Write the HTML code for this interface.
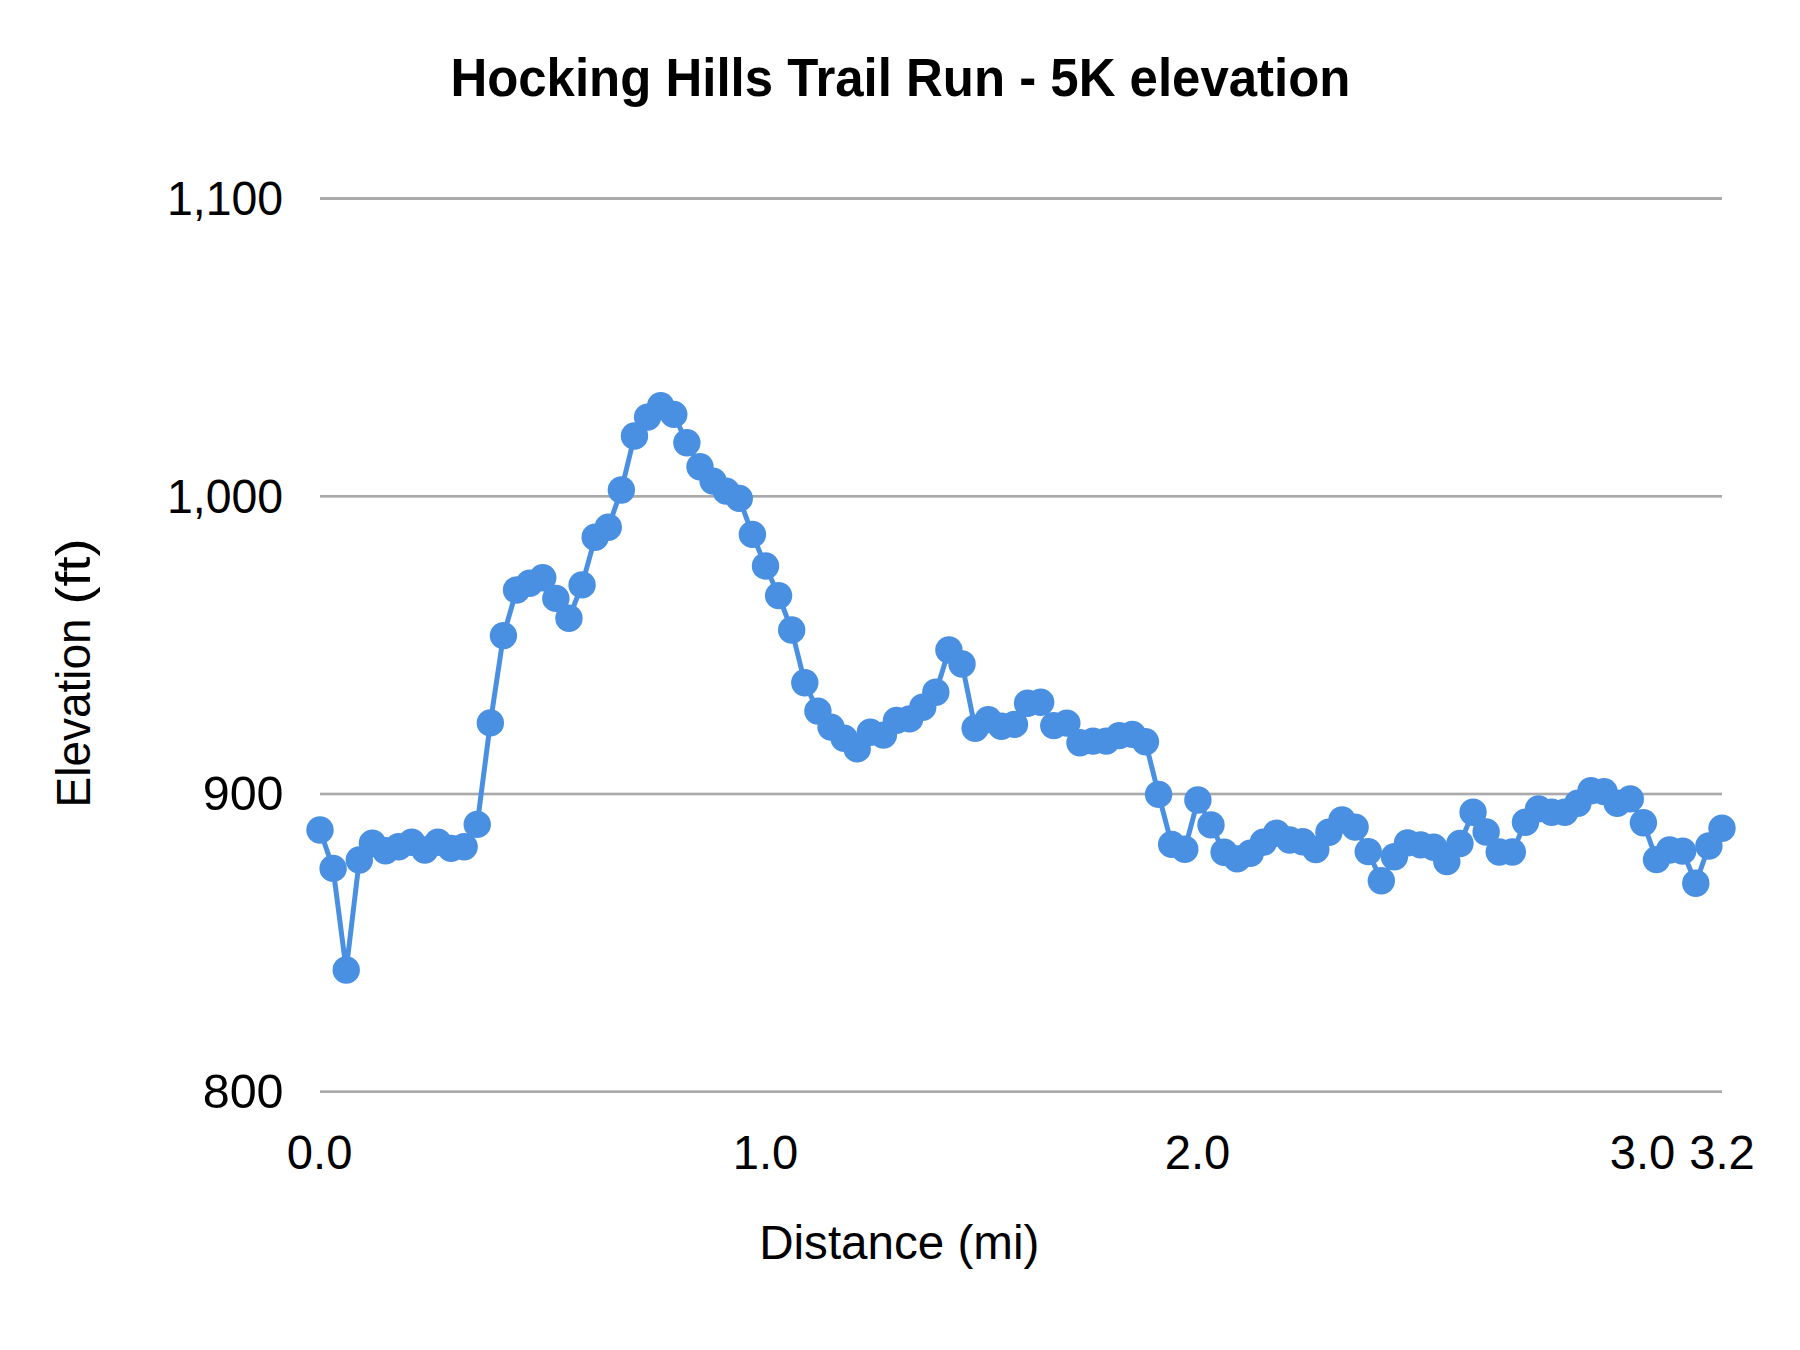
<!DOCTYPE html><html><head><meta charset="utf-8"><title>Hocking Hills Trail Run - 5K elevation</title>
<style>html,body{margin:0;padding:0;background:#fff;}body{width:1800px;height:1350px;overflow:hidden;}svg{display:block;}text{font-family:"Liberation Sans",sans-serif;fill:#000;}</style></head><body>
<svg width="1800" height="1350" viewBox="0 0 1800 1350">
<rect width="1800" height="1350" fill="#ffffff"/>
<rect x="320" y="197.00" width="1402" height="3.00" fill="#aaaaaa"/>
<rect x="320" y="495.00" width="1402" height="2.67" fill="#aaaaaa"/>
<rect x="320" y="792.67" width="1402" height="2.66" fill="#aaaaaa"/>
<rect x="320" y="1090.33" width="1402" height="2.67" fill="#aaaaaa"/>
<text x="450.4" y="95.8" font-size="54" font-weight="bold" textLength="900" lengthAdjust="spacingAndGlyphs">Hocking Hills Trail Run - 5K elevation</text>
<text x="167" y="215" font-size="48.5" textLength="116.2" lengthAdjust="spacingAndGlyphs">1,100</text>
<text x="167" y="512.7" font-size="48.5" textLength="116.2" lengthAdjust="spacingAndGlyphs">1,000</text>
<text x="283.6" y="810.3" font-size="48.5" text-anchor="end">900</text>
<text x="283.6" y="1108.2" font-size="48.5" text-anchor="end">800</text>
<text x="319.6" y="1169.1" font-size="48.5" text-anchor="middle" textLength="65.6" lengthAdjust="spacingAndGlyphs">0.0</text>
<text x="765.5" y="1169.1" font-size="48.5" text-anchor="middle" textLength="65.6" lengthAdjust="spacingAndGlyphs">1.0</text>
<text x="1197.5" y="1169.1" font-size="48.5" text-anchor="middle" textLength="65.6" lengthAdjust="spacingAndGlyphs">2.0</text>
<text x="1642.5" y="1169.1" font-size="48.5" text-anchor="middle" textLength="65.6" lengthAdjust="spacingAndGlyphs">3.0</text>
<text x="1722" y="1169.1" font-size="48.5" text-anchor="middle" textLength="65.6" lengthAdjust="spacingAndGlyphs">3.2</text>
<text x="759.2" y="1258.8" font-size="48" textLength="280.2" lengthAdjust="spacingAndGlyphs">Distance (mi)</text>
<text transform="translate(90.2 803.4) rotate(-90)" font-size="48"><tspan x="-4" textLength="189" lengthAdjust="spacingAndGlyphs">Elevation</tspan> <tspan x="199" textLength="66" lengthAdjust="spacingAndGlyphs">(ft)</tspan></text>
<path d="M320.00 830.00 L333.10 868.40 L346.21 970.00 L359.31 860.00 L372.41 843.30 L385.51 850.70 L398.62 846.70 L411.72 842.20 L424.82 850.00 L437.93 842.20 L451.03 848.40 L464.13 846.70 L477.23 824.40 L490.34 722.90 L503.44 635.60 L516.54 590.00 L529.64 583.30 L542.75 577.80 L555.85 598.40 L568.95 618.20 L582.06 584.90 L595.16 537.30 L608.26 527.30 L621.36 490.00 L634.47 436.00 L647.57 417.10 L660.67 405.60 L673.78 414.40 L686.88 442.70 L699.98 466.70 L713.08 481.10 L726.19 491.10 L739.29 498.40 L752.39 534.40 L765.50 566.00 L778.60 595.60 L791.70 630.00 L804.80 682.70 L817.91 711.10 L831.01 727.10 L844.11 738.20 L857.21 748.90 L870.32 732.20 L883.42 735.10 L896.52 720.40 L909.63 718.90 L922.73 707.30 L935.83 692.20 L948.93 650.00 L962.04 664.00 L975.14 728.20 L988.24 719.60 L1001.35 726.20 L1014.45 724.40 L1027.55 703.30 L1040.65 702.20 L1053.76 725.60 L1066.86 723.10 L1079.96 742.70 L1093.07 741.10 L1106.17 741.10 L1119.27 735.60 L1132.37 734.40 L1145.48 741.80 L1158.58 794.40 L1171.68 844.40 L1184.79 849.30 L1197.89 800.00 L1210.99 824.90 L1224.09 852.20 L1237.20 858.90 L1250.30 853.30 L1263.40 842.20 L1276.50 833.30 L1289.61 840.00 L1302.71 841.80 L1315.81 849.60 L1328.92 832.20 L1342.02 820.00 L1355.12 827.10 L1368.22 851.60 L1381.33 880.70 L1394.43 856.70 L1407.53 842.90 L1420.64 844.90 L1433.74 847.30 L1446.84 861.60 L1459.94 843.50 L1473.05 812.20 L1486.15 832.00 L1499.25 852.00 L1512.36 852.00 L1525.46 822.20 L1538.56 808.90 L1551.66 812.20 L1564.77 812.20 L1577.87 803.30 L1590.97 790.70 L1604.07 791.60 L1617.18 803.30 L1630.28 798.90 L1643.38 822.70 L1656.49 859.60 L1669.59 850.00 L1682.69 851.10 L1695.79 883.30 L1708.90 846.00 L1722.00 828.20" fill="none" stroke="#4a90e2" stroke-width="5" stroke-linejoin="round" stroke-linecap="round"/>
<g fill="#4a90e2">
<circle cx="320.00" cy="830.00" r="13.7"/>
<circle cx="333.10" cy="868.40" r="13.7"/>
<circle cx="346.21" cy="970.00" r="13.7"/>
<circle cx="359.31" cy="860.00" r="13.7"/>
<circle cx="372.41" cy="843.30" r="13.7"/>
<circle cx="385.51" cy="850.70" r="13.7"/>
<circle cx="398.62" cy="846.70" r="13.7"/>
<circle cx="411.72" cy="842.20" r="13.7"/>
<circle cx="424.82" cy="850.00" r="13.7"/>
<circle cx="437.93" cy="842.20" r="13.7"/>
<circle cx="451.03" cy="848.40" r="13.7"/>
<circle cx="464.13" cy="846.70" r="13.7"/>
<circle cx="477.23" cy="824.40" r="13.7"/>
<circle cx="490.34" cy="722.90" r="13.7"/>
<circle cx="503.44" cy="635.60" r="13.7"/>
<circle cx="516.54" cy="590.00" r="13.7"/>
<circle cx="529.64" cy="583.30" r="13.7"/>
<circle cx="542.75" cy="577.80" r="13.7"/>
<circle cx="555.85" cy="598.40" r="13.7"/>
<circle cx="568.95" cy="618.20" r="13.7"/>
<circle cx="582.06" cy="584.90" r="13.7"/>
<circle cx="595.16" cy="537.30" r="13.7"/>
<circle cx="608.26" cy="527.30" r="13.7"/>
<circle cx="621.36" cy="490.00" r="13.7"/>
<circle cx="634.47" cy="436.00" r="13.7"/>
<circle cx="647.57" cy="417.10" r="13.7"/>
<circle cx="660.67" cy="405.60" r="13.7"/>
<circle cx="673.78" cy="414.40" r="13.7"/>
<circle cx="686.88" cy="442.70" r="13.7"/>
<circle cx="699.98" cy="466.70" r="13.7"/>
<circle cx="713.08" cy="481.10" r="13.7"/>
<circle cx="726.19" cy="491.10" r="13.7"/>
<circle cx="739.29" cy="498.40" r="13.7"/>
<circle cx="752.39" cy="534.40" r="13.7"/>
<circle cx="765.50" cy="566.00" r="13.7"/>
<circle cx="778.60" cy="595.60" r="13.7"/>
<circle cx="791.70" cy="630.00" r="13.7"/>
<circle cx="804.80" cy="682.70" r="13.7"/>
<circle cx="817.91" cy="711.10" r="13.7"/>
<circle cx="831.01" cy="727.10" r="13.7"/>
<circle cx="844.11" cy="738.20" r="13.7"/>
<circle cx="857.21" cy="748.90" r="13.7"/>
<circle cx="870.32" cy="732.20" r="13.7"/>
<circle cx="883.42" cy="735.10" r="13.7"/>
<circle cx="896.52" cy="720.40" r="13.7"/>
<circle cx="909.63" cy="718.90" r="13.7"/>
<circle cx="922.73" cy="707.30" r="13.7"/>
<circle cx="935.83" cy="692.20" r="13.7"/>
<circle cx="948.93" cy="650.00" r="13.7"/>
<circle cx="962.04" cy="664.00" r="13.7"/>
<circle cx="975.14" cy="728.20" r="13.7"/>
<circle cx="988.24" cy="719.60" r="13.7"/>
<circle cx="1001.35" cy="726.20" r="13.7"/>
<circle cx="1014.45" cy="724.40" r="13.7"/>
<circle cx="1027.55" cy="703.30" r="13.7"/>
<circle cx="1040.65" cy="702.20" r="13.7"/>
<circle cx="1053.76" cy="725.60" r="13.7"/>
<circle cx="1066.86" cy="723.10" r="13.7"/>
<circle cx="1079.96" cy="742.70" r="13.7"/>
<circle cx="1093.07" cy="741.10" r="13.7"/>
<circle cx="1106.17" cy="741.10" r="13.7"/>
<circle cx="1119.27" cy="735.60" r="13.7"/>
<circle cx="1132.37" cy="734.40" r="13.7"/>
<circle cx="1145.48" cy="741.80" r="13.7"/>
<circle cx="1158.58" cy="794.40" r="13.7"/>
<circle cx="1171.68" cy="844.40" r="13.7"/>
<circle cx="1184.79" cy="849.30" r="13.7"/>
<circle cx="1197.89" cy="800.00" r="13.7"/>
<circle cx="1210.99" cy="824.90" r="13.7"/>
<circle cx="1224.09" cy="852.20" r="13.7"/>
<circle cx="1237.20" cy="858.90" r="13.7"/>
<circle cx="1250.30" cy="853.30" r="13.7"/>
<circle cx="1263.40" cy="842.20" r="13.7"/>
<circle cx="1276.50" cy="833.30" r="13.7"/>
<circle cx="1289.61" cy="840.00" r="13.7"/>
<circle cx="1302.71" cy="841.80" r="13.7"/>
<circle cx="1315.81" cy="849.60" r="13.7"/>
<circle cx="1328.92" cy="832.20" r="13.7"/>
<circle cx="1342.02" cy="820.00" r="13.7"/>
<circle cx="1355.12" cy="827.10" r="13.7"/>
<circle cx="1368.22" cy="851.60" r="13.7"/>
<circle cx="1381.33" cy="880.70" r="13.7"/>
<circle cx="1394.43" cy="856.70" r="13.7"/>
<circle cx="1407.53" cy="842.90" r="13.7"/>
<circle cx="1420.64" cy="844.90" r="13.7"/>
<circle cx="1433.74" cy="847.30" r="13.7"/>
<circle cx="1446.84" cy="861.60" r="13.7"/>
<circle cx="1459.94" cy="843.50" r="13.7"/>
<circle cx="1473.05" cy="812.20" r="13.7"/>
<circle cx="1486.15" cy="832.00" r="13.7"/>
<circle cx="1499.25" cy="852.00" r="13.7"/>
<circle cx="1512.36" cy="852.00" r="13.7"/>
<circle cx="1525.46" cy="822.20" r="13.7"/>
<circle cx="1538.56" cy="808.90" r="13.7"/>
<circle cx="1551.66" cy="812.20" r="13.7"/>
<circle cx="1564.77" cy="812.20" r="13.7"/>
<circle cx="1577.87" cy="803.30" r="13.7"/>
<circle cx="1590.97" cy="790.70" r="13.7"/>
<circle cx="1604.07" cy="791.60" r="13.7"/>
<circle cx="1617.18" cy="803.30" r="13.7"/>
<circle cx="1630.28" cy="798.90" r="13.7"/>
<circle cx="1643.38" cy="822.70" r="13.7"/>
<circle cx="1656.49" cy="859.60" r="13.7"/>
<circle cx="1669.59" cy="850.00" r="13.7"/>
<circle cx="1682.69" cy="851.10" r="13.7"/>
<circle cx="1695.79" cy="883.30" r="13.7"/>
<circle cx="1708.90" cy="846.00" r="13.7"/>
<circle cx="1722.00" cy="828.20" r="13.7"/>
</g>
</svg></body></html>
